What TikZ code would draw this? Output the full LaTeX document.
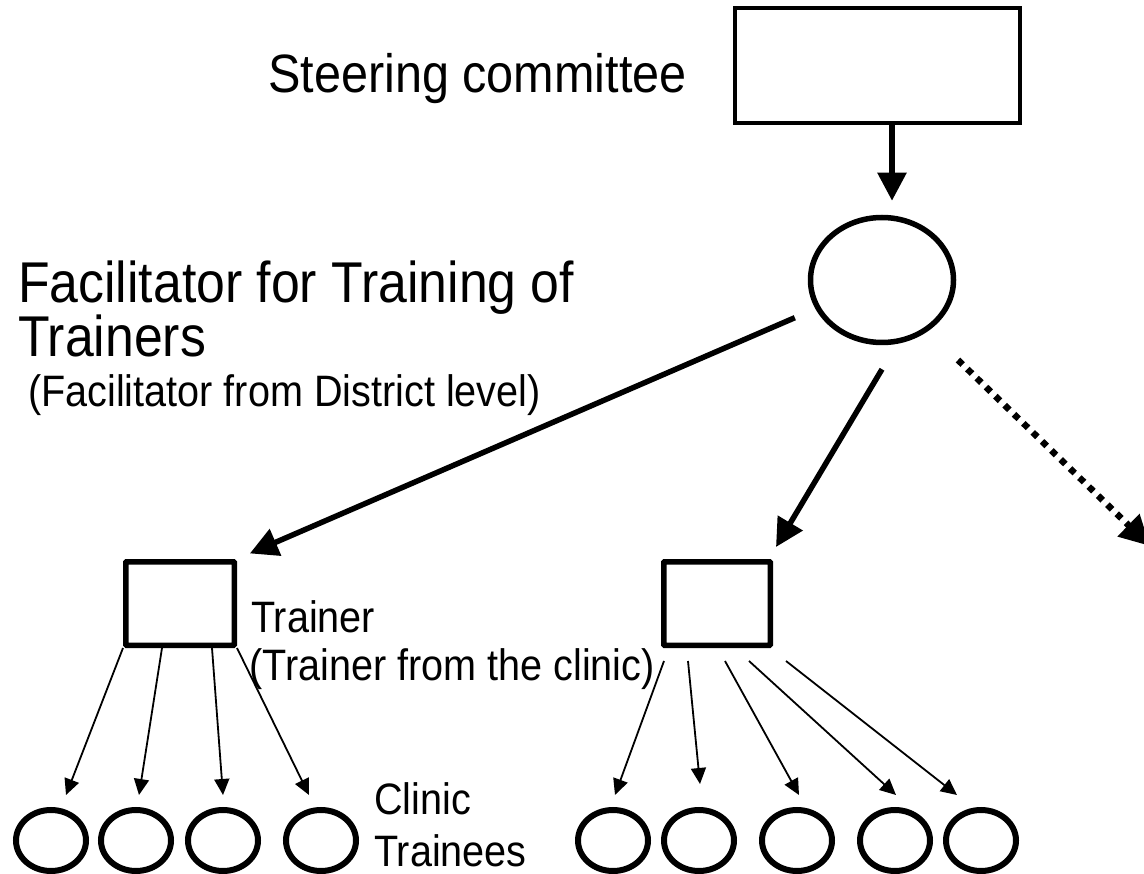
\documentclass[tikz,border=0pt]{standalone}
\usepackage{fontspec}
\setmainfont[FakeStretch=0.9]{Liberation Sans}
\usetikzlibrary{arrows.meta,shapes.geometric}
\begin{document}
\begin{tikzpicture}[x=1pt,y=-1pt,
  boxnode/.style={draw,line width=5.5pt,rectangle,inner sep=0pt,rounded corners=0.8pt},
  topnode/.style={draw,line width=4pt,rectangle,inner sep=0pt},
  facnode/.style={draw,line width=5.5pt,ellipse,inner sep=0pt,minimum width=143pt,minimum height=125pt},
  trnode/.style={draw,line width=6pt,ellipse,inner sep=0pt,minimum width=70pt,minimum height=61pt},
  bigarrow/.style={line width=5.5pt,-{Triangle[length=28pt,width=28pt]}},
  thinarrow/.style={line width=1.8pt,-{Triangle[length=16pt,width=15pt]}},
  dotarrow/.style={line width=6.5pt,dash pattern=on 6.5pt off 6.5pt,-{Triangle[length=30pt,width=30pt]}},
  bigtext/.style={anchor=base west,inner sep=0pt,font=\fontsize{57.5}{64}\selectfont},
  sctext/.style={anchor=base west,inner sep=0pt,font=\fontsize{54}{60}\selectfont},
  smalltext/.style={anchor=base west,inner sep=0pt,font=\fontsize{44}{50}\selectfont}
]
\useasboundingbox (0,0) rectangle (1144,874);
% nodes
\node[topnode,minimum width=285pt,minimum height=115pt] (sc) at (877.5,65.5) {};
\node[facnode] (fac) at (882,280) {};
\node[boxnode,minimum width=108.5pt,minimum height=83.5pt] (t1) at (180,603.5) {};
\node[boxnode,minimum width=106.5pt,minimum height=83.5pt] (t2) at (717,603.5) {};
\node[trnode] (c1) at (51,840.5) {};
\node[trnode] (c2) at (136,840.5) {};
\node[trnode] (c3) at (223,840.5) {};
\node[trnode] (c4) at (321,840.5) {};
\node[trnode] (c5) at (613,840.5) {};
\node[trnode] (c6) at (699,840.5) {};
\node[trnode] (c7) at (797,840.5) {};
\node[trnode] (c8) at (895,840.5) {};
\node[trnode] (c9) at (981,840.5) {};
\coordinate (offpage) at (1150,546);
% texts
\node[sctext] (lsc) at (268,93) {Steering committee};
\node[bigtext] (lfac1) at (18,303) {Facilitator for Training of};
\node[bigtext] (lfac2) at (18,357) {Trainers};
\node[smalltext] (lfac3) at (28,407) {(Facilitator from District level)};
\node[smalltext] (ltr1) at (251,632) {Trainer};
\node[smalltext] (ltr2) at (249,680) {(Trainer from the clinic)};
\node[smalltext] (lcl1) at (374,814) {Clinic};
\node[smalltext] (lcl2) at (374,866) {Trainees};
% connectors
\draw[bigarrow] ([xshift=14.5pt]sc.south) -- ([xshift=10pt,yshift=14pt]fac.north);
\draw[bigarrow,shorten <=95pt,shorten >=14pt] (fac.center) -- (t1.north east);
\draw[bigarrow] ([yshift=-24pt]fac.south) -- ([xshift=3pt,yshift=12pt]t2.north east);
\draw[dotarrow] ([xshift=76pt,yshift=-80pt]fac.center) -- (offpage);
\draw[thinarrow] (t1.south west) -- ([xshift=15pt,yshift=12pt]c1.north);
\draw[thinarrow] ([xshift=-18pt]t1.south) -- ([xshift=3pt,yshift=12pt]c2.north);
\draw[thinarrow] ([xshift=32pt]t1.south) -- ([yshift=12pt]c3.north);
\draw[thinarrow] (t1.south east) -- ([xshift=-12pt,yshift=12pt]c4.north);
\draw[thinarrow] ([xshift=-53pt,yshift=-13pt]t2.south) -- ([xshift=2pt,yshift=12pt]c5.north);
\draw[thinarrow] ([xshift=-29pt,yshift=-13pt]t2.south) -- ([xshift=1pt,yshift=23pt]c6.north);
\draw[thinarrow] ([xshift=8pt,yshift=-13pt]t2.south) -- ([xshift=2pt,yshift=12pt]c7.north);
\draw[thinarrow] ([xshift=32pt,yshift=-13pt]t2.south) -- ([xshift=1pt,yshift=12pt]c8.north);
\draw[thinarrow] ([xshift=69pt,yshift=-13pt]t2.south) -- ([xshift=-24pt,yshift=12pt]c9.north);
\end{tikzpicture}
\end{document}
